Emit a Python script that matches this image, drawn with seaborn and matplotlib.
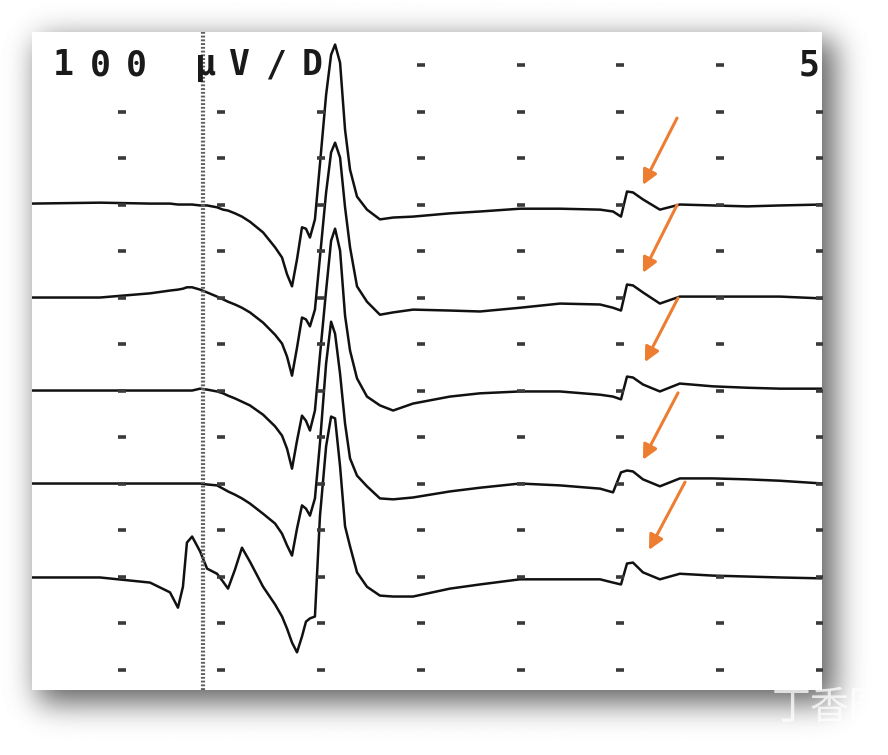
import numpy as np
import pandas as pd
import matplotlib
matplotlib.use('Agg')
import matplotlib.pyplot as plt
import seaborn as sns

# time axis in ms (5 ms / division)
t_ms = [0.50, 3.91, 6.42, 7.42, 7.82, 8.07, 8.27, 8.53, 8.93, 9.28,
        9.78, 10.08, 10.33, 10.68, 11.03, 11.43, 12.09, 12.69, 13.04, 13.29,
        13.54, 13.79, 14.04, 14.24, 14.44, 14.69, 14.94, 15.25, 15.50, 15.70,
        15.95, 16.20, 16.45, 16.80, 17.30, 17.95, 18.61, 19.61, 21.46, 22.97,
        24.97, 26.98, 28.99, 29.64, 30.04, 30.34, 30.64, 31.14, 31.99, 32.99,
        34.65, 36.36, 38.01, 40.17]

# amplitudes in uV (100 uV / division), relative to each trace baseline
trace1_uv = [2, 4, 2, 2, 0, 0, 0, 0, -2, -2,
             -6, -11, -13, -19, -26, -37, -60, -92, -114, -150,
             -176, -118, -49, -52, -71, -32, 86, 236, 322, 344,
             305, 161, 75, 17, -11, -32, -28, -26, -19, -15,
             -9, -9, -11, -15, -26, 28, 26, 11, -11, 0,
             -2, -4, -2, 0]
trace2_uv = [0, 0, 9, 15, 17, 19, 22, 22, 17, 11,
             2, -4, -9, -15, -22, -32, -54, -80, -99, -127,
             -168, -108, -43, -47, -62, -26, 86, 226, 312, 333,
             301, 194, 108, 24, -9, -37, -32, -26, -28, -30,
             -22, -13, -15, -22, -28, 28, 26, 11, -13, 2,
             2, 2, 2, -2]
trace3_uv = [0, 0, 0, 0, 0, 0, 0, 0, 4, 2,
             -2, -6, -11, -17, -24, -32, -52, -77, -97, -125,
             -168, -108, -54, -65, -86, -43, 75, 215, 322, 348,
             301, 161, 86, 26, -13, -32, -43, -28, -13, -6,
             -2, -2, -9, -13, -19, 30, 28, 13, -2, 15,
             9, 6, 4, 4]
trace4_uv = [0, 0, 0, 0, 0, 0, 0, 0, 0, -2,
             -4, -11, -17, -24, -32, -43, -65, -86, -108, -133,
             -155, -97, -47, -54, -69, -32, 86, 258, 348, 322,
             236, 129, 54, 17, -6, -32, -34, -30, -17, -9,
             0, -4, -11, -19, 24, 28, 26, 9, -6, 11,
             11, 9, 6, 0]
trace5_uv = [-2, -2, -13, -34, -67, -22, 73, 86, 54, 17,
             6, -11, -26, 15, 62, 32, -22, -60, -86, -112,
             -142, -163, -129, -97, -90, -86, 129, 280, 344, 340,
             237, 108, 65, 9, -22, -41, -43, -43, -26, -17,
             -6, -6, -6, -13, -17, 28, 30, 9, -6, 6,
             2, 0, -2, -4]
baselines_uv = [-300, -500, -700, -900, -1100]

# screen grid dots
dot_cols_ms = [5, 10, 15, 20, 25, 30, 35, 40]
dot_rows_uv = [0, -100, -200, -300, -400, -500, -600, -700, -800, -900,
               -1000, -1100, -1200, -1300]
cursor_ms = 9.08

# orange arrows (tail -> head)
arrow_tail_ms = [32.85, 32.85, 32.90, 32.90, 33.25]
arrow_tail_uv = [-114, -301, -501, -705, -897]
arrow_head_ms = [31.14, 31.14, 31.24, 31.14, 31.44]
arrow_head_uv = [-258, -447, -639, -849, -1043]

# header text, one char per screen cell
label_chars = ['1', '0', '0', 'µ', 'V', '/', 'D']
label_ms = [2.06, 3.91, 5.72, 9.18, 10.83, 12.69, 14.54]

traces = [trace1_uv, trace2_uv, trace3_uv, trace4_uv, trace5_uv]
rows = []
for i, (tr, base) in enumerate(zip(traces, baselines_uv)):
    for t, v in zip(t_ms, tr):
        rows.append([f'trace {i + 1}', t, base + v])
df = pd.DataFrame(rows, columns=['trace', 'time', 'uv'])

sns.set_theme(style='white')

W, H = 888, 755
fig = plt.figure(figsize=(W / 100, H / 100), dpi=100)

# soft drop shadow behind the panel
def blur1d(n, a, b, sigma):
    m = np.zeros(n)
    m[a:b] = 1.0
    k = np.exp(-0.5 * (np.arange(-60, 61) / sigma) ** 2)
    return np.convolve(m, k / k.sum(), mode='same')

bx = blur1d(W, 38, 834, 15)
by = blur1d(H, 40, 703, 15)
shade = 1 - 0.62 * np.outer(by, bx)
bg = fig.add_axes([0, 0, 1, 1])
bg.imshow(shade, cmap='gray', vmin=0, vmax=1, extent=[0, W, H, 0], aspect='auto')
bg.set_axis_off()

ax = fig.add_axes([32 / W, 65 / H, 790 / W, 658 / H])
ax.set_facecolor('white')

sns.lineplot(data=df, x='time', y='uv', hue='trace', palette=['#111111'] * 5,
             estimator=None, sort=False, legend=False, linewidth=1.8, ax=ax)

# grid dots
gx, gy = [], []
for r in dot_rows_uv:
    for c in dot_cols_ms:
        if r == 0 and (c <= 15 or c == 40):
            continue
        gx.append(c)
        gy.append(r)
ax.plot(gx, gy, ls='none', marker='_', ms=6, mew=2.6, color='#3a3a3a')

ax.axvline(cursor_ms, color='#606060', lw=3.0, ls=(0, (0.45, 0.45)))

for ch, x in zip(label_chars, label_ms):
    ax.text(x, 0, ch, ha='center', va='center', fontsize=25, fontweight='bold',
            family='DejaVu Sans Mono', color='#1a1a1a')
ax.text(39.45, 0, '5', ha='center', va='center', fontsize=25, fontweight='bold',
        family='DejaVu Sans Mono', color='#1a1a1a', clip_on=True)

for tx, ty, hx, hy in zip(arrow_tail_ms, arrow_tail_uv, arrow_head_ms, arrow_head_uv):
    ax.annotate('', xy=(hx, hy), xytext=(tx, ty),
                arrowprops=dict(arrowstyle='-|>', color='#ED7D31', lw=2.2,
                                mutation_scale=22, shrinkA=0, shrinkB=0))

ax.set_xlim(0.50, 40.12)
ax.set_ylim(-1344, 71)
ax.set_xticks([])
ax.set_yticks([])
ax.set_xlabel('')
ax.set_ylabel('')
for s in ax.spines.values():
    s.set_visible(False)

fig.text(772 / W, 1 - 708 / H, '丁香园', ha='left', va='center', fontsize=28,
         color='white', alpha=0.75, family=['Noto Sans CJK SC', 'DejaVu Sans'])

fig.savefig('out.png', dpi=100)
